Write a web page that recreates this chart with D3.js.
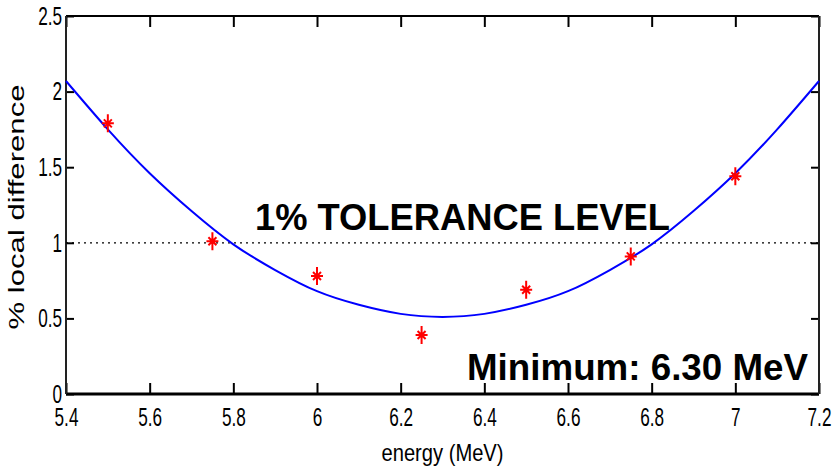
<!DOCTYPE html>
<html>
<head>
<meta charset="utf-8">
<script src="https://cdn.jsdelivr.net/npm/d3@7"></script>
<style>
  body { margin: 0; background: #fff; }
  svg { display: block; }
</style>
</head>
<body>
<svg id="chart"></svg>
<script>
// Data
const energies = [5.5, 5.75, 6.0, 6.25, 6.5, 6.75, 7.0];
const localDiff = [1.79, 1.01, 0.78, 0.39, 0.69, 0.91, 1.44];

// fitted curve
const fitEnergy = [5.4, 5.5, 5.6, 5.7, 5.8, 5.9, 6.0, 6.1, 6.2, 6.3, 6.4, 6.5, 6.6, 6.7, 6.8, 6.9, 7.0, 7.1, 7.2];
const fitDiff = [2.07, 1.75, 1.46, 1.21, 0.99, 0.82, 0.68, 0.59, 0.53, 0.51, 0.53, 0.59, 0.68, 0.82, 0.99, 1.21, 1.46, 1.75, 2.07];

const xTicks = [5.4, 5.6, 5.8, 6.0, 6.2, 6.4, 6.6, 6.8, 7.0, 7.2];
const xTickLabels = ['5.4', '5.6', '5.8', '6', '6.2', '6.4', '6.6', '6.8', '7', '7.2'];
const yTicks = [0, 0.5, 1, 1.5, 2, 2.5];
const yTickLabels = ['0', '0.5', '1', '1.5', '2', '2.5'];
const tolerance = 1;

(function() {

    const w = 834;
    const h = 466;
    const left = 66, right = 819, top = 16, bottom = 394;

    const svg = d3.select('#chart')
        .attr('width', w)
        .attr('height', h);

    const scaleX = d3.scaleLinear().domain([5.4, 7.2]).range([left, right]);
    const scaleY = d3.scaleLinear().domain([0, 2.5]).range([bottom, top]);

    const font = '"Liberation Sans", Arial, sans-serif';

    // Axes (MATLAB style, ticks pointing inward)
    const xAxis = d3.axisBottom(scaleX)
        .tickValues(xTicks)
        .tickFormat((d, i) => xTickLabels[i])
        .tickSize(-11)
        .tickPadding(14);

    const yAxis = d3.axisLeft(scaleY)
        .tickValues(yTicks)
        .tickFormat((d, i) => yTickLabels[i])
        .tickSize(-8)
        .tickPadding(4);

    svg.append('g')
        .attr('transform', `translate(0, ${bottom})`)
        .call(xAxis);

    svg.append('g')
        .attr('transform', `translate(${left}, 0)`)
        .call(yAxis);

    svg.append('g')
        .attr('transform', `translate(0, ${top})`)
        .call(d3.axisTop(scaleX).tickValues(xTicks).tickSize(-11).tickFormat(''));

    svg.append('g')
        .attr('transform', `translate(${right}, 0)`)
        .call(d3.axisRight(scaleY).tickValues(yTicks).tickSize(-8).tickFormat(''));

    svg.selectAll('.domain').remove();
    svg.selectAll('.tick line').attr('stroke', '#000').attr('stroke-width', 2);

    // condensed tick labels
    svg.selectAll('.tick text')
        .attr('font-family', font)
        .attr('font-size', 26)
        .attr('fill', '#000')
        .each(function() {
            const len = this.getComputedTextLength();
            if (len > 0) {
                d3.select(this)
                    .attr('textLength', len * 0.66)
                    .attr('lengthAdjust', 'spacingAndGlyphs');
            }
        });

    // box
    svg.append('line')
        .attr('x1', left).attr('x2', right).attr('y1', top).attr('y2', top)
        .attr('stroke', '#000').attr('stroke-width', 2);
    svg.append('line')
        .attr('x1', left).attr('x2', right).attr('y1', bottom).attr('y2', bottom)
        .attr('stroke', '#000').attr('stroke-width', 3);
    [left, right].forEach(x => {
        svg.append('line')
            .attr('x1', x).attr('x2', x).attr('y1', top).attr('y2', bottom)
            .attr('stroke', '#222').attr('stroke-width', 2);
    });

    // tolerance line
    svg.append('line')
        .attr('x1', left).attr('x2', right)
        .attr('y1', scaleY(tolerance)).attr('y2', scaleY(tolerance))
        .attr('stroke', '#000')
        .attr('stroke-width', 1.2)
        .attr('stroke-dasharray', '2,4');

    // fit curve
    const line = d3.line()
        .x(d => scaleX(d[0]))
        .y(d => scaleY(d[1]))
        .curve(d3.curveNatural);

    svg.append('path')
        .datum(fitEnergy.map((e, i) => [e, fitDiff[i]]))
        .attr('d', line)
        .attr('fill', 'none')
        .attr('stroke', '#0000ff')
        .attr('stroke-width', 2);

    // asterisk markers
    const star = 'M0,-9L0,9M-6,0L6,0M-4,-4L4,4M-4,4L4,-4';
    svg.selectAll('.pt')
        .data(energies)
        .enter()
        .append('path')
        .attr('class', 'pt')
        .attr('transform', (d, i) => `translate(${scaleX(d)}, ${scaleY(localDiff[i])})`)
        .attr('d', star)
        .attr('fill', 'none')
        .attr('stroke', '#ff0000')
        .attr('stroke-width', 2);

    // labels
    svg.append('text')
        .attr('x', (left + right) / 2)
        .attr('y', 461)
        .attr('text-anchor', 'middle')
        .attr('font-family', font)
        .attr('font-size', 24)
        .attr('textLength', 122)
        .attr('lengthAdjust', 'spacingAndGlyphs')
        .text('energy (MeV)');

    svg.append('text')
        .attr('transform', 'translate(24, 207) rotate(-90)')
        .attr('text-anchor', 'middle')
        .attr('font-family', font)
        .attr('font-size', 22)
        .attr('textLength', 245)
        .attr('lengthAdjust', 'spacingAndGlyphs')
        .text('% local difference');

    svg.append('text')
        .attr('x', 255)
        .attr('y', 230)
        .attr('font-family', font)
        .attr('font-weight', 'bold')
        .attr('font-size', 36.5)
        .attr('textLength', 415)
        .attr('lengthAdjust', 'spacingAndGlyphs')
        .text('1% TOLERANCE LEVEL');

    svg.append('text')
        .attr('x', 467)
        .attr('y', 380)
        .attr('font-family', font)
        .attr('font-weight', 'bold')
        .attr('font-size', 37)
        .attr('textLength', 341)
        .attr('lengthAdjust', 'spacingAndGlyphs')
        .text('Minimum: 6.30 MeV');

})();
</script>
</body>
</html>
